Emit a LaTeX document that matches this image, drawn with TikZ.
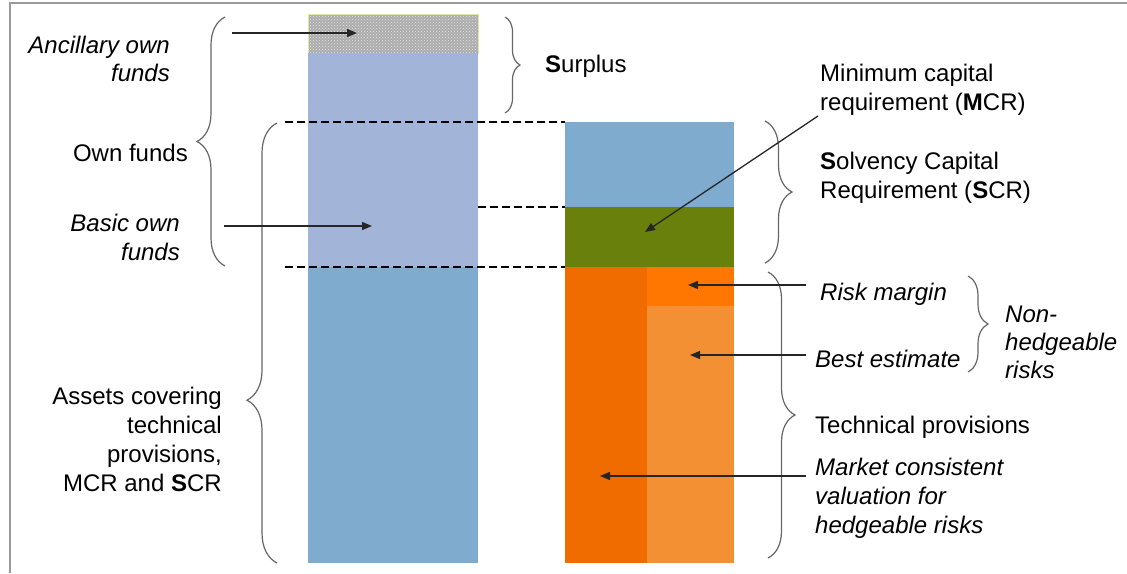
\documentclass[tikz,border=0pt]{standalone}
\usepackage{fontspec}
\setmainfont{Liberation Sans}
\usetikzlibrary{decorations.pathreplacing,arrows.meta,patterns}

\definecolor{frameGray}{HTML}{9A9A9A}
\definecolor{hatchGray}{HTML}{ADADAD}
\definecolor{hatchEdge}{HTML}{E2E7A8}
\definecolor{ownBlue}{HTML}{A2B4D8}
\definecolor{assetBlue}{HTML}{7EABCE}
\definecolor{mcrGreen}{HTML}{6A800C}
\definecolor{orangeDark}{HTML}{F06C00}
\definecolor{orangeBright}{HTML}{FF7700}
\definecolor{orangeLight}{HTML}{F39034}

\begin{document}
\begin{tikzpicture}[x=1pt,y=-1pt,
  lbl/.style={inner sep=0pt, text=black, font=\fontsize{24}{29}\selectfont},
  lblR/.style={lbl, anchor=east, align=right},
  lblL/.style={lbl, anchor=west, align=left},
  ptr/.style={-{Triangle[length=10pt,width=8pt]}, line width=1.3pt, black!85},
  brc/.style={decorate, decoration={brace, amplitude=#1}, draw=black!60, line width=1.2pt},
  guide/.style={black, line width=1.5pt, dash pattern=on 8pt off 4pt},
  block/.style={anchor=north west, inner sep=0pt, outer sep=0pt, draw=none}
]
\useasboundingbox (0,0) rectangle (1127,573);

% frame
\draw[frameGray, line width=2pt] (10,573) -- (10,3) -- (1127,3);

% balance sheet, left column
\node[block, fill=hatchGray, minimum width=170pt, minimum height=39pt] (anc) at (308,14) {};
\fill[pattern=crosshatch dots, pattern color=black!10] (308,14) rectangle (478,53);
\draw[hatchEdge, line width=1pt] (308,14) rectangle (478,53);
\node[block, fill=ownBlue, minimum width=170pt, minimum height=214pt] (basic) at (308,53) {};
\node[block, fill=assetBlue, minimum width=170pt, minimum height=296pt] (assets) at (308,267) {};

% balance sheet, right column
\node[block, fill=assetBlue, minimum width=169pt, minimum height=85pt] (scr) at (565,122) {};
\node[block, fill=mcrGreen, minimum width=169pt, minimum height=60pt] (mcr) at (565,207) {};
\node[block, fill=orangeDark, minimum width=82pt, minimum height=296pt] (hedge) at (565,267) {};
\node[block, fill=orangeBright, minimum width=87pt, minimum height=39pt] (rmbox) at (647,267) {};
\node[block, fill=orangeLight, minimum width=87pt, minimum height=257pt] (bebox) at (647,306) {};

% dashed guides
\draw[guide] (285,122) -- (scr.north west);
\draw[guide] (basic.east |- mcr.north west) -- (mcr.north west);
\draw[guide] (285,267) -- (hedge.north west);

% braces
\draw[brc=28] (225,266) -- (225,17);
\draw[brc=30, decoration={aspect=0.37}] (277,563) -- (277,123);
\draw[brc=15] (505,17) -- (505,113);
\draw[brc=27] (765,121) -- (765,263);
\draw[brc=27] (768,272) -- (768,558);
\draw[brc=20] (968,276) -- (968,372);

% labels, left side
\node[lblR, font=\fontsize{24}{28}\selectfont\itshape] (lanc) at (170,59) {Ancillary own\\funds};
\node[lblR] (lown) at (188,153) {Own funds};
\node[lblR, font=\fontsize{24}{29}\selectfont\itshape] (lbasic) at (180,237) {Basic own\\funds};
\node[lblR] (lassets) at (222,439) {Assets covering\\technical\\provisions,\\MCR and \textbf{S}CR};

% labels, right side
\node[lblL] (lsur) at (545,66) {\textbf{S}urplus};
\node[lblL] (lmcr) at (820,90) {Minimum capital\\requirement (\textbf{M}CR)};
\node[lblL] (lscr) at (820,178) {\textbf{S}olvency Capital\\Requirement (\textbf{S}CR)};
\node[lblL, font=\fontsize{24}{29}\selectfont\itshape] (lrm) at (820,294) {Risk margin};
\node[lblL, font=\fontsize{24}{29}\selectfont\itshape] (lbe) at (815,359) {Best estimate};
\node[lblL, font=\fontsize{24}{28}\selectfont\itshape] (lnon) at (1005,342) {Non-\\hedgeable\\risks};
\node[lblL] (ltp) at (815,427) {Technical provisions};
\node[lblL, font=\fontsize{24}{29}\selectfont\itshape] (lmkt) at (815,498) {Market consistent\\valuation for\\hedgeable risks};

% pointers
\coordinate (ancFrom) at (232,33);   \coordinate (ancTo) at (357,33);
\coordinate (basFrom) at (224,226);  \coordinate (basTo) at (372,226);
\coordinate (mcrFrom) at (818,116);  \coordinate (mcrTo) at (645,232);
\coordinate (rmFrom) at (806,285);   \coordinate (rmTo) at (688,285);
\coordinate (beFrom) at (806,355);   \coordinate (beTo) at (690,355);
\coordinate (mkFrom) at (806,476);   \coordinate (mkTo) at (600,476);
\draw[ptr] (ancFrom) -- (ancTo);
\draw[ptr] (basFrom) -- (basTo);
\draw[ptr] (mcrFrom) -- (mcrTo);
\draw[ptr] (rmFrom) -- (rmTo);
\draw[ptr] (beFrom) -- (beTo);
\draw[ptr] (mkFrom) -- (mkTo);
\end{tikzpicture}
\end{document}
